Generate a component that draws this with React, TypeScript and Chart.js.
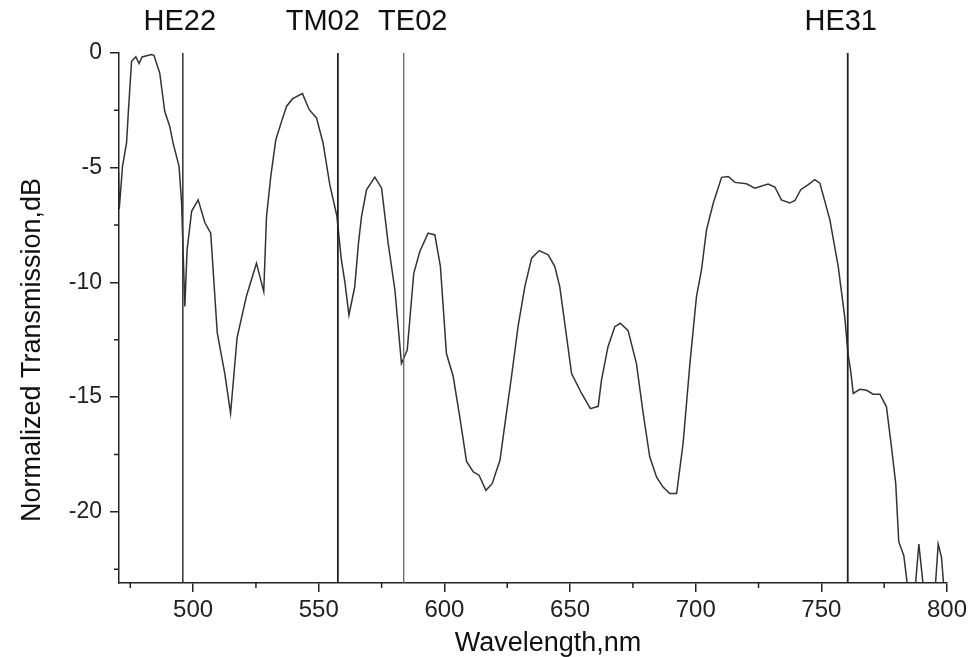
import React, { useEffect, useRef } from "react";
import { Chart, registerables } from "chart.js";

Chart.register(...registerables);

// ---- data ----
const wavelength = [
  470.3, 470.6, 471.9, 473.5, 474.2, 475.5, 477.2, 478.5, 479.7, 481.5, 483.4, 484.4,
  486.7, 488.7, 490.7, 492.0, 494.4, 495.4, 496.7, 497.6, 499.4, 502.0, 504.7, 507.0,
  509.6, 512.6, 514.9, 517.5, 521.2, 525.2, 528.1, 529.2, 530.9, 532.9, 535.2, 537.2,
  539.6, 543.5, 546.2, 549.1, 551.7, 554.4, 557.2, 559.0, 560.4, 562.0, 564.3, 565.8,
  567.0, 569.0, 572.3, 575.0, 577.6, 580.3, 582.9, 585.2, 587.8, 590.2, 593.5, 596.2,
  598.4, 600.8, 603.5, 606.1, 608.8, 611.5, 613.8, 616.5, 619.0, 622.1, 624.1, 626.7,
  629.3, 632.0, 634.7, 637.7, 641.3, 643.9, 645.9, 647.9, 650.6, 654.6, 658.1, 661.2,
  662.5, 665.1, 667.8, 670.0, 673.1, 676.4, 679.1, 681.7, 684.4, 687.0, 689.7, 692.4,
  695.0, 697.7, 700.3, 702.3, 704.3, 707.0, 710.3, 713.0, 715.6, 720.2, 723.5, 728.8,
  731.5, 734.1, 737.4, 739.5, 741.8, 744.8, 747.4, 749.4, 753.4, 756.7, 759.3, 760.7,
  761.6, 762.7, 765.3, 768.0, 770.6, 773.3, 775.9, 777.9, 779.6, 780.8, 782.8, 784.6,
  787.2, 788.8, 790.8, 795.2, 796.5, 797.8, 798.9,
];
const transmission = [
  -5.2, -6.8, -4.94, -3.92, -2.61, -0.36, -0.17, -0.46, -0.17, -0.12, -0.07, -0.1,
  -0.87, -2.54, -3.2, -3.92, -4.94, -6.5, -11.05, -8.58, -6.9, -6.4, -7.4, -7.85,
  -12.2, -13.97, -15.7, -12.4, -10.6, -9.16, -10.4, -7.13, -5.38, -3.78, -2.98, -2.32,
  -1.99, -1.77, -2.47, -2.83, -3.92, -5.75, -7.1, -9.02, -10.0, -11.42, -10.2, -8.29,
  -7.13, -5.96, -5.41, -5.89, -8.29, -10.33, -13.53, -12.95, -9.6, -8.65, -7.85, -7.93,
  -9.3, -13.1, -14.1, -15.86, -17.8, -18.26, -18.4, -19.06, -18.77, -17.75, -16.15, -14.1,
  -11.93, -10.18, -8.94, -8.61, -8.8, -9.3, -10.18, -11.78, -13.97, -14.84, -15.5, -15.4,
  -14.26, -12.8, -11.93, -11.78, -12.1, -13.53, -15.71, -17.6, -18.48, -18.92, -19.2, -19.2,
  -17.0, -13.53, -10.62, -9.45, -7.71, -6.54, -5.42, -5.38, -5.64, -5.7, -5.89, -5.71,
  -5.84, -6.4, -6.54, -6.43, -5.96, -5.74, -5.52, -5.67, -7.27, -9.3, -11.5, -13.2,
  -13.8, -14.84, -14.66, -14.7, -14.87, -14.87, -15.42, -17.17, -18.77, -21.3, -21.9, -23.5,
  -23.5, -21.4, -23.5, -23.5, -21.4, -21.97, -23.5,
];

const modeNames = ["HE22", "TM02", "TE02", "HE31"];
const modeWavelengths = [495.9, 557.6, 583.8, 760.5];
const modeLabelWavelengths = [494.7, 551.6, 587.4, 757.7];

const xMajorTicks = [500, 550, 600, 650, 700, 750, 800];
const xMinorTicks = [475, 525, 575, 625, 675, 725, 775];
const yMajorTicks = [0, -5, -10, -15, -20];
const yMinorTicks = [-2.5, -7.5, -12.5, -17.5, -22.5];

const xRange = [470.5, 800];
const yRange = [-23.1, 0];

const xTitle = "Wavelength,nm";
const yTitle = "Normalized Transmission,dB";

// ---- styles ----
const FONT = '"Liberation Sans", Arial, Helvetica, sans-serif';
const modeLineColors = ["#333333", "#222222", "#666666", "#222222"];
const modeLineWidths = [1.5, 1.8, 1.3, 1.8];

const overlayPlugin = {
  id: "overlay",
  afterDraw(chart: any) {
    const ctx = chart.ctx;
    const xs = chart.scales.x;
    const ys = chart.scales.y;
    const area = chart.chartArea;
    ctx.save();
    ctx.strokeStyle = "#222";
    ctx.lineWidth = 1.5;
    ctx.beginPath();
    xMinorTicks.forEach((v) => {
      const px = xs.getPixelForValue(v);
      ctx.moveTo(px, area.bottom);
      ctx.lineTo(px, area.bottom + 5);
    });
    yMinorTicks.forEach((v) => {
      const py = ys.getPixelForValue(v);
      ctx.moveTo(area.left, py);
      ctx.lineTo(area.left - 5, py);
    });
    ctx.stroke();

    ctx.fillStyle = "#111";
    ctx.textAlign = "center";
    ctx.textBaseline = "alphabetic";
    ctx.font = `29px ${FONT}`;
    modeNames.forEach((n, i) => {
      ctx.fillText(n, xs.getPixelForValue(modeLabelWavelengths[i]), 30);
    });

    ctx.font = `27px ${FONT}`;
    ctx.fillText(xTitle, 548, 651);
    ctx.translate(40, 350);
    ctx.rotate(-Math.PI / 2);
    ctx.fillText(yTitle, 0, 0);
    ctx.restore();
  },
};

export default function App() {
  const ref = useRef<HTMLCanvasElement | null>(null);

  useEffect(() => {
    if (!ref.current) return;
    const curve = wavelength.map((w, i) => ({ x: w, y: transmission[i] }));
    const lineSets = modeWavelengths.map((w, i) => ({
      label: modeNames[i],
      data: [
        { x: w, y: yRange[1] },
        { x: w, y: yRange[0] },
      ],
      borderColor: modeLineColors[i],
      borderWidth: modeLineWidths[i],
      pointRadius: 0,
      fill: false,
    }));
    const chart = new Chart(ref.current, {
      type: "line",
      data: {
        datasets: [
          ...lineSets,
          {
            label: "Transmission",
            data: curve,
            borderColor: "#333333",
            borderWidth: 1.5,
            pointRadius: 0,
            fill: false,
            tension: 0,
          },
        ],
      },
      options: {
        animation: false,
        responsive: true,
        maintainAspectRatio: false,
        layout: { padding: { left: 0, top: 53, right: 24, bottom: 0 } },
        plugins: {
          legend: { display: false },
          tooltip: { enabled: false },
          title: { display: false },
        },
        scales: {
          x: {
            type: "linear",
            min: xRange[0],
            max: xRange[1],
            afterBuildTicks: (s: any) => {
              s.ticks = xMajorTicks.map((v) => ({ value: v }));
            },
            afterFit: (s: any) => {
              s.height = 74;
              s.paddingLeft = 0;
              s.paddingRight = 0;
            },
            grid: {
              display: true,
              drawOnChartArea: false,
              drawTicks: true,
              tickLength: 9,
              color: "#222",
              lineWidth: 1.5,
            },
            border: { display: true, color: "#222", width: 1.5 },
            ticks: {
              color: "#222",
              font: { family: FONT, size: 24 },
              padding: 4,
              maxRotation: 0,
              autoSkip: false,
            },
          },
          y: {
            type: "linear",
            min: yRange[0],
            max: yRange[1],
            afterBuildTicks: (s: any) => {
              s.ticks = yMajorTicks.map((v) => ({ value: v }));
            },
            afterFit: (s: any) => {
              s.width = 119;
              s.paddingTop = 0;
              s.paddingBottom = 0;
            },
            grid: {
              display: true,
              drawOnChartArea: false,
              drawTicks: true,
              tickLength: 9,
              color: "#222",
              lineWidth: 1.5,
            },
            border: { display: true, color: "#222", width: 1.5 },
            ticks: {
              color: "#222",
              font: { family: FONT, size: 23 },
              padding: 8,
              autoSkip: false,
            },
          },
        },
      },
      plugins: [overlayPlugin],
    });
    return () => chart.destroy();
  }, []);

  return (
    <div style={{ position: "fixed", left: 0, top: 0, width: 971, height: 657, background: "#fff" }}>
      <canvas ref={ref} />
    </div>
  );
}
